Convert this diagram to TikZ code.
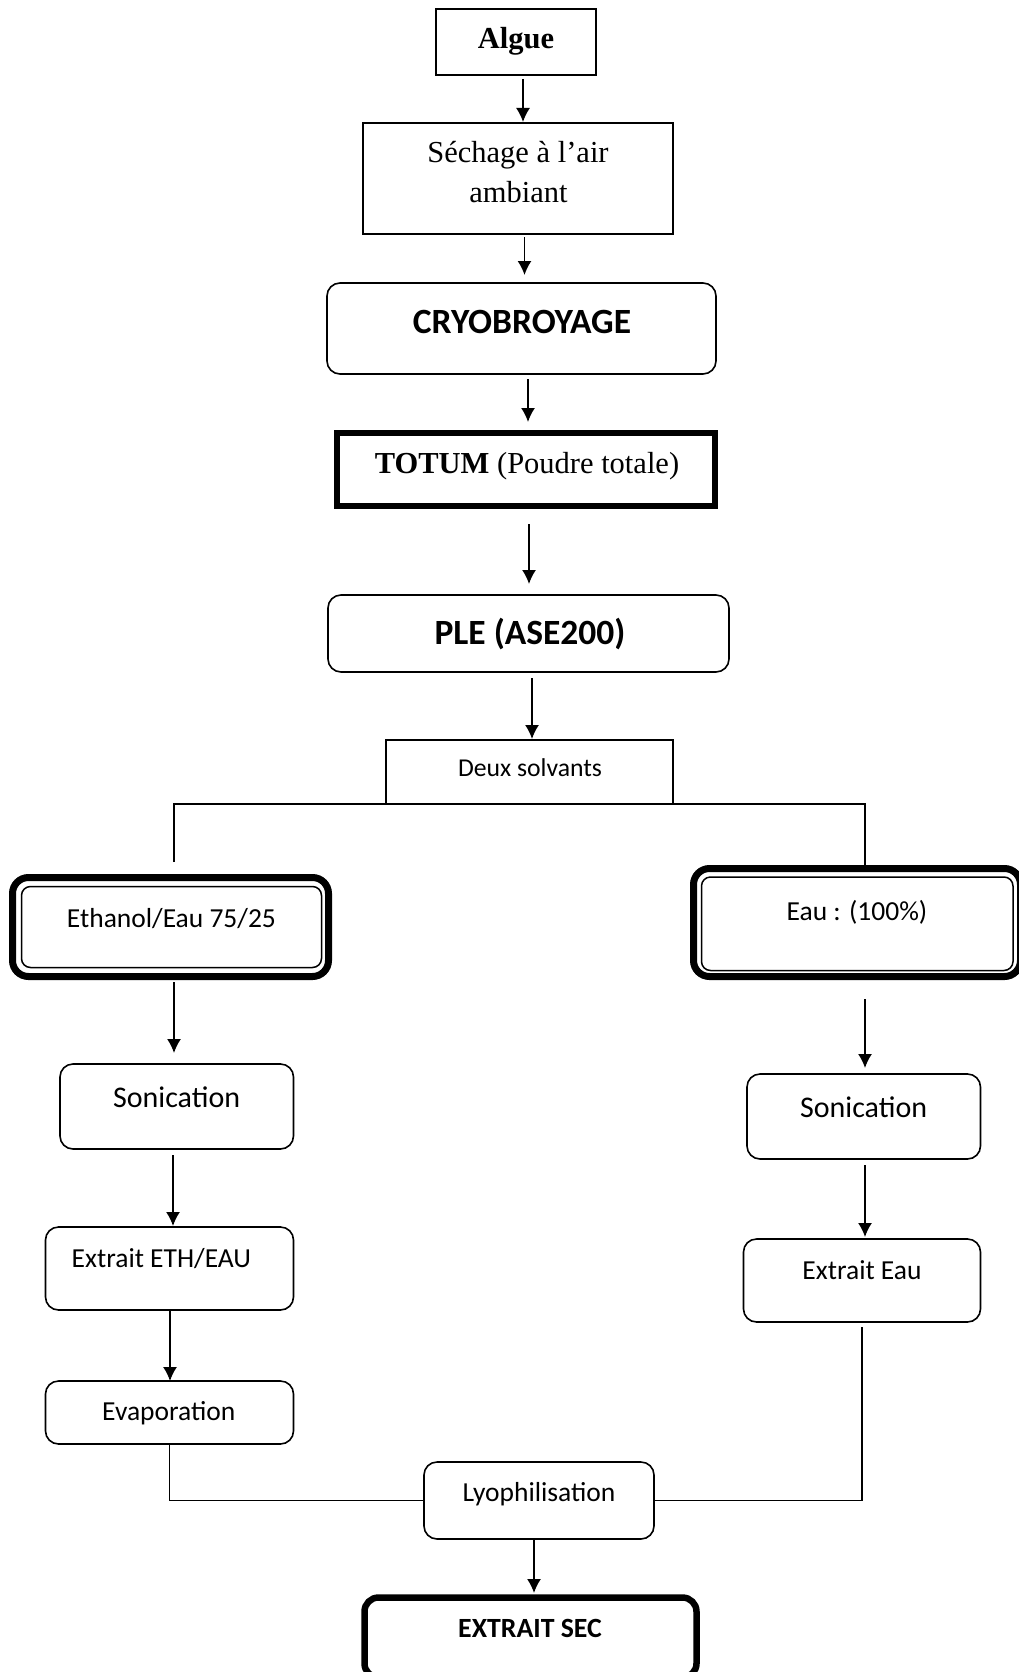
\documentclass[tikz,border=0pt]{standalone}
\usepackage{fontspec}
\setmainfont{Liberation Serif}
\newfontfamily\calfont{Carlito}
\usetikzlibrary{arrows.meta}
\tikzset{
  thinbox/.style={draw, line width=1.6pt, inner sep=0pt, outer sep=0pt},
  roundbox/.style={thinbox, rounded corners=13pt},
  thickbox/.style={draw, line width=6pt, inner sep=0pt, outer sep=0pt},
  dblbox/.style={draw, line width=7pt, rounded corners=16pt, inner sep=0pt, outer sep=0pt},
  innerline/.style={draw, line width=1.5pt, rounded corners=9pt},
  arr/.style={line width=1.6pt, -{Latex[length=14pt,width=14pt]}},
  conn/.style={line width=1.6pt},
  lbl/.style={inner sep=0pt, anchor=base},
  tnr/.style={lbl, font=\fontsize{30.5}{36}\selectfont},
  tnrb/.style={lbl, font=\fontsize{30.5}{36}\selectfont\bfseries},
  calbig/.style={lbl, font=\calfont\fontsize{35.5}{42}\selectfont\bfseries},
  calmid/.style={lbl, font=\calfont\fontsize{30}{36}\selectfont},
  cal/.style={lbl, font=\calfont\fontsize{27.5}{33}\selectfont},
  calb/.style={lbl, font=\calfont\fontsize{27.8}{33}\selectfont\bfseries},
  calsm/.style={lbl, font=\calfont\fontsize{25.7}{31}\selectfont}
}
\begin{document}
\begin{tikzpicture}[x=1pt,y=-1pt]
\useasboundingbox (0,0) rectangle (1018,1672);
\fill[white] (0,0) rectangle (1018,1672);

% boxes
\node[thinbox, minimum width=160pt, minimum height=66pt] (algue) at (516,42) {};
\node[thinbox, minimum width=310pt, minimum height=111pt] (sech) at (518,178.5) {};
\node[roundbox, minimum width=389pt, minimum height=91pt] (cryo) at (521.5,328.5) {};
\node[thickbox, minimum width=378pt, minimum height=73pt] (totum) at (526,469.5) {};
\node[roundbox, minimum width=401pt, minimum height=77pt] (ple) at (528.5,633.5) {};
\node[thinbox, minimum width=287pt, minimum height=64pt] (deux) at (529.5,772) {};

\node[dblbox, minimum width=316pt, minimum height=99pt] (eth) at (170.5,927) {};
\draw[innerline] ([xshift=9pt,yshift=-9pt]eth.north west) rectangle ([xshift=-7pt,yshift=9pt]eth.south east);
\node[dblbox, minimum width=327pt, minimum height=108pt] (eau) at (857,922.5) {};
\draw[innerline] ([xshift=8pt,yshift=-8.5pt]eau.north west) rectangle ([xshift=-7.5pt,yshift=6pt]eau.south east);

\node[roundbox, minimum width=233.5pt, minimum height=85pt] (sonl) at (176.75,1106.5) {};
\node[roundbox, minimum width=248pt, minimum height=83pt] (extl) at (169.5,1268.5) {};
\node[roundbox, minimum width=248pt, minimum height=63pt] (evap) at (169.5,1412.5) {};
\node[roundbox, minimum width=233.5pt, minimum height=85pt] (sonr) at (863.75,1116.5) {};
\node[roundbox, minimum width=237pt, minimum height=83pt] (extr) at (862,1280.5) {};
\node[roundbox, minimum width=230pt, minimum height=77pt] (lyo) at (539,1500.5) {};
\node[thickbox, line width=6.5pt, rounded corners=14pt, minimum width=332pt, minimum height=80pt] (sec) at (530.5,1637.5) {};

% texts
\node[tnrb] (t-algue) at (516,48.3) {Algue};
\node[tnr] (t-sech1) at (518,162.3) {Séchage à l’air};
\node[tnr] (t-sech2) at (518.5,202.5) {ambiant};
\node[calbig] (t-cryo) at (522,333) {CRYOBROYAGE};
\node[tnr] (t-totum) at (527,473.3) {\textbf{TOTUM} (Poudre totale)};
\node[calbig] (t-ple) at (530,644) {PLE (ASE200)};
\node[calsm] (t-deux) at (530,776.7) {Deux solvants};
\node[cal] (t-eth) at (171.5,927.3) {Ethanol/Eau 75/25};
\node[cal] (t-eau) at (857,920.3) {Eau : (100\%)};
\node[calmid] (t-sonl) at (176.6,1107.3) {Sonication};
\node[calmid] (t-sonr) at (863.6,1117.7) {Sonication};
\node[cal] (t-extl) at (161.4,1267.3) {Extrait ETH/EAU};
\node[cal] (t-extr) at (862,1279.3) {Extrait Eau};
\node[cal] (t-evap) at (168.8,1420) {Evaporation};
\node[cal] (t-lyo) at (539,1501.7) {Lyophilisation};
\node[calb] (t-sec) at (530,1637) {EXTRAIT SEC};

% arrows
\draw[arr] ([xshift=7pt,yshift=-4pt]algue.south) -- ([xshift=5pt,yshift=1pt]sech.north);
\draw[arr] ([xshift=6.5pt,yshift=-3pt]sech.south) -- ([xshift=3pt,yshift=8pt]cryo.north);
\draw[arr] ([xshift=6.5pt,yshift=-5pt]cryo.south) -- ([xshift=2pt,yshift=11pt]totum.north);
\draw[arr] ([xshift=3pt,yshift=-18pt]totum.south) -- ([xshift=0.5pt,yshift=11pt]ple.north);
\draw[arr] ([xshift=3.5pt,yshift=-6pt]ple.south) -- ([xshift=2.5pt,yshift=1pt]deux.north);

\coordinate (bl) at (174,862);
\coordinate (br) at (865,866);
\draw[conn] (bl) |- (deux.south) -| (br);

\draw[arr] ([xshift=3.5pt,yshift=-5.5pt]eth.south) -- ([xshift=-2.75pt,yshift=11pt]sonl.north);
\draw[arr] ([xshift=-3.75pt,yshift=-6pt]sonl.south) -- ([xshift=3.5pt,yshift=1pt]extl.north);
\draw[arr] ([xshift=0.5pt]extl.south) -- ([xshift=0.5pt]evap.north);
\draw[arr] ([xshift=8pt,yshift=-22.5pt]eau.south) -- ([xshift=1.25pt,yshift=6pt]sonr.north);
\draw[arr] ([xshift=1.25pt,yshift=-6pt]sonr.south) -- ([xshift=3pt,yshift=2pt]extr.north);

\draw[conn] (evap.south) |- (lyo.west);
\draw[conn] ([yshift=-5pt]extr.south) |- (lyo.east);
\draw[arr] ([xshift=-5pt]lyo.south) -- ([xshift=3.5pt,yshift=4.5pt]sec.north);
\end{tikzpicture}
\end{document}
